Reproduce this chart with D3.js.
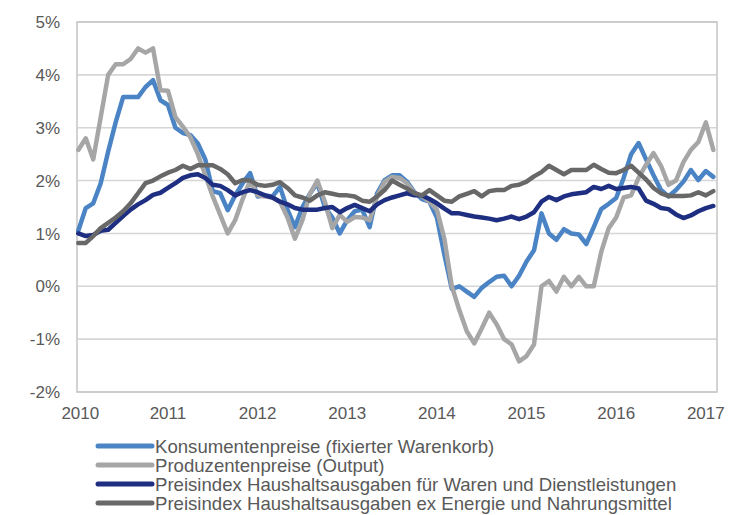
<!DOCTYPE html>
<html><head><meta charset="utf-8">
<script src="https://cdn.jsdelivr.net/npm/d3@7"></script>
<style>
html,body{margin:0;padding:0;background:#fff;}
svg{display:block;font-family:"Liberation Sans",Arial,sans-serif;}
</style></head>
<body><svg id="c" width="738" height="515"></svg>
<script>
// Monthly data Jan 2010 .. Feb 2017 (86 months), % change y/y
const yearLabels = ["2010","2011","2012","2013","2014","2015","2016","2017"];
const yTicks = [-2,-1,0,1,2,3,4,5];
const seriesNames = [
  "Konsumentenpreise (fixierter Warenkorb)",
  "Produzentenpreise (Output)",
  "Preisindex Haushaltsausgaben für Waren und Dienstleistungen",
  "Preisindex Haushaltsausgaben ex Energie und Nahrungsmittel"
];
const konsumenten = [1.05,1.48,1.57,1.95,2.55,3.1,3.58,3.58,3.58,3.77,3.9,3.52,
  3.43,3.0,2.9,2.86,2.7,2.4,1.8,1.76,1.44,1.72,1.95,2.14,
  1.7,1.72,1.7,1.88,1.45,1.12,1.5,1.75,1.95,1.5,1.3,1.0,
  1.25,1.42,1.45,1.12,1.76,2.01,2.1,2.1,1.98,1.78,1.65,1.6,
  1.3,0.6,-0.05,0.0,-0.1,-0.2,-0.03,0.08,0.18,0.2,0.0,0.2,
  0.47,0.68,1.38,1.0,0.88,1.08,1.0,0.98,0.8,1.12,1.46,1.56,
  1.67,2.05,2.5,2.71,2.4,2.1,1.82,1.7,1.82,1.98,2.2,2.01,
  2.18,2.07];
const produzenten = [2.58,2.8,2.4,3.2,4.0,4.2,4.2,4.3,4.5,4.42,4.5,3.71,
  3.7,3.2,3.02,2.82,2.5,2.1,1.7,1.35,1.0,1.25,1.65,2.0,
  1.72,1.7,1.68,1.6,1.3,0.9,1.25,1.75,2.0,1.6,1.1,1.35,
  1.22,1.31,1.3,1.25,1.7,1.98,2.07,2.05,1.95,1.76,1.7,1.6,
  1.45,0.9,0.0,-0.45,-0.85,-1.08,-0.8,-0.5,-0.72,-1.0,-1.1,-1.42,
  -1.32,-1.1,0.0,0.1,-0.1,0.18,0.0,0.18,0.0,0.0,0.65,1.1,
  1.3,1.68,1.72,2.05,2.3,2.52,2.28,1.92,2.0,2.35,2.58,2.73,
  3.1,2.58];
const haushalt = [1.0,0.95,0.97,1.05,1.07,1.2,1.33,1.45,1.55,1.63,1.73,1.77,
  1.86,1.95,2.05,2.1,2.12,2.05,1.92,1.9,1.82,1.72,1.78,1.82,
  1.78,1.72,1.68,1.6,1.55,1.48,1.45,1.45,1.45,1.48,1.5,1.4,
  1.48,1.54,1.48,1.42,1.55,1.63,1.68,1.72,1.76,1.72,1.72,1.65,
  1.57,1.47,1.38,1.38,1.35,1.32,1.3,1.28,1.25,1.28,1.32,1.27,
  1.32,1.4,1.6,1.69,1.63,1.7,1.74,1.76,1.78,1.88,1.84,1.9,
  1.84,1.86,1.88,1.85,1.62,1.56,1.48,1.46,1.36,1.29,1.34,1.42,
  1.48,1.52];
const kern = [0.82,0.82,0.95,1.1,1.2,1.3,1.42,1.57,1.76,1.95,2.0,2.08,
  2.15,2.2,2.28,2.22,2.29,2.29,2.29,2.22,2.12,1.95,2.01,2.0,
  1.92,1.9,1.92,1.97,1.86,1.72,1.68,1.62,1.72,1.78,1.75,1.72,
  1.72,1.7,1.62,1.6,1.7,1.82,2.0,1.92,1.85,1.76,1.72,1.82,
  1.72,1.62,1.6,1.7,1.75,1.8,1.7,1.8,1.82,1.82,1.9,1.92,
  1.98,2.08,2.16,2.28,2.2,2.12,2.2,2.2,2.2,2.3,2.22,2.15,
  2.14,2.2,2.28,2.15,2.02,1.86,1.76,1.71,1.71,1.71,1.72,1.78,
  1.72,1.8];
const colors = ["#4a84c4","#a6a6a6","#1e2f82","#686868"];

const svg = d3.select("#c");
const pLeft = 77, pRight = 717, pTop = 22, pBottom = 392;
const x = d3.scaleLinear().domain([0, 85]).range([78.3, 713.3]);
const y = d3.scaleLinear().domain([-2, 5]).range([pBottom, pTop]);

// gridlines
svg.append("g").selectAll("line").data(yTicks).join("line")
  .attr("x1", pLeft).attr("x2", pRight)
  .attr("y1", d => y(d)).attr("y2", d => y(d))
  .attr("stroke", "#d6d6d6").attr("stroke-width", 1.6);
// frame
svg.append("rect").attr("x", pLeft).attr("y", pTop)
  .attr("width", pRight - pLeft).attr("height", pBottom - pTop)
  .attr("fill", "none").attr("stroke", "#c8c8c8").attr("stroke-width", 1.6);

// y labels
svg.append("g").selectAll("text").data(yTicks).join("text")
  .attr("x", 60).attr("y", d => y(d)).attr("dy", "0.36em")
  .attr("text-anchor", "end").attr("font-size", 17).attr("fill", "#595959")
  .text(d => d + "%");
// x labels
svg.append("g").selectAll("text").data(yearLabels).join("text")
  .attr("x", (d, i) => x(i * 12) + (i === 0 ? 2 : 0)).attr("y", 419)
  .attr("text-anchor", "middle").attr("font-size", 17).attr("fill", "#595959")
  .text(d => d);

const all = [konsumenten, produzenten, haushalt, kern];
const line = d3.line().x((d, i) => x(i)).y(d => y(d));
svg.append("g").selectAll("path").data(all).join("path")
  .attr("d", line).attr("fill", "none")
  .attr("stroke", (d, i) => colors[i]).attr("stroke-width", 4.5)
  .attr("stroke-linejoin", "round").attr("stroke-linecap", "round");

// legend
const lg = svg.append("g").selectAll("g").data(seriesNames).join("g")
  .attr("transform", (d, i) => `translate(0,${446 + i * 19})`);
lg.append("line").attr("x1", 98).attr("x2", 152)
  .attr("stroke", (d, i) => colors[i]).attr("stroke-width", 5).attr("stroke-linecap", "round");
lg.append("text").attr("x", 155).attr("dy", "0.36em").attr("font-size", 18.6)
  .attr("fill", "#595959").text(d => d);
</script></body></html>
